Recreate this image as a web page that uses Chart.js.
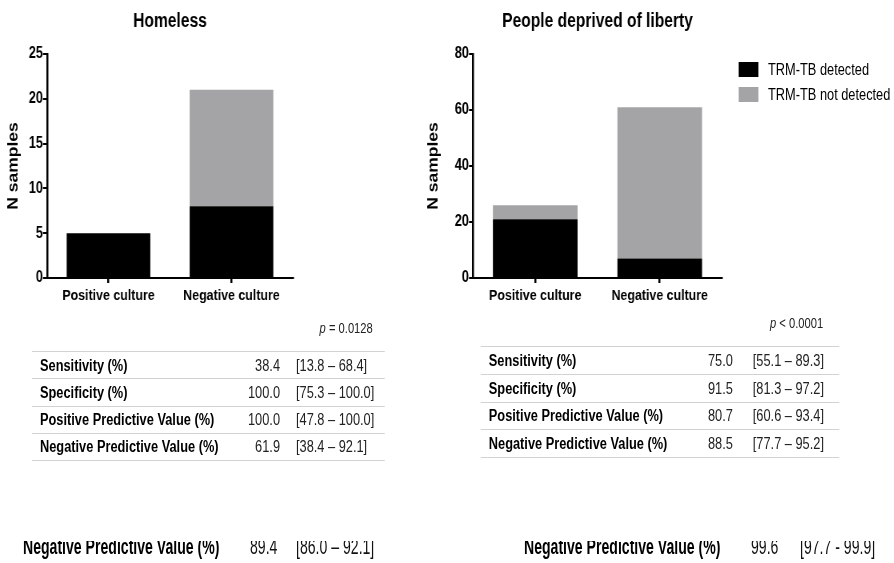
<!DOCTYPE html>
<html>
<head>
<meta charset="utf-8">
<script src="https://cdn.jsdelivr.net/npm/chart.js@4"></script>
<style>
  body { margin: 0; background: #fff; width: 894px; height: 563px; position: relative; overflow: hidden;
         font-family: 'Liberation Sans', Arial, sans-serif; color: #000; }
  /* everything is laid out 1/0.8 wider and squeezed back, to get the narrow type of the original */
  #main { position: absolute; left: 0; top: 0; width: 1117.5px; height: 563px; transform: scaleX(0.8); transform-origin: 0 0; }
  #main canvas { position: absolute; top: 0; }
  #homelessChart { left: 0; }
  #pdlChart { left: 525px; }
  #legend { position: absolute; left: 922.5px; top: 62px; }
  #legend .item { position: relative; height: 25px; white-space: nowrap; }
  #legend .box { position: absolute; left: 0; top: 0; width: 25px; height: 15px; }
  #legend .txt { position: absolute; left: 37.5px; top: -1px; font-size: 16px; line-height: 17px; }
  .pval { position: absolute; font-size: 14px; color: #222; text-align: right; width: 100px; line-height: 16px; }
  .stats { position: absolute; }
  .stats .row { position: absolute; left: 0; right: 0; border-top: 1.5px solid #d2d2d2; font-size: 16px; }
  .stats .row span { position: absolute; top: 50%; transform: translateY(-50%); white-space: nowrap; line-height: 18px; }
  .stats .lab { font-weight: bold; left: 10px; }
  .stats .val { color: #222; text-align: right; }
  .stats .ci { color: #222; }
  .stats .end { position: absolute; left: 0; right: 0; border-top: 1.5px solid #d2d2d2; }
  #bottomClip { position: absolute; left: 0; top: 541px; width: 1400px; height: 22px; overflow: hidden; transform: scaleX(0.64); transform-origin: 0 0; }
  #bottomClip span { position: absolute; top: -4.6px; font-size: 22px; line-height: 22px; white-space: nowrap; color: #111; }
  #bottomClip .lab { font-weight: bold; color: #000; }
</style>
</head>
<body>
<div id="main">
  <canvas id="homelessChart" width="388" height="310"></canvas>
  <canvas id="pdlChart" width="593" height="310"></canvas>
  <div id="legend"></div>
  <div class="pval" style="left:366px; top:320px;"><i>p</i> = 0.0128</div>
  <div class="pval" style="left:929px; top:315px;"><i>p</i> &lt; 0.0001</div>
  <div class="stats" id="homelessTable" style="left:40px; top:351px; width:441px;"></div>
  <div class="stats" id="pdlTable" style="left:601px; top:346px; width:448px;"></div>
</div>
<div id="bottomClip"></div>

<script>
const categories = ["Positive culture", "Negative culture"];
const seriesNames = ["TRM-TB detected", "TRM-TB not detected"];
const seriesColors = ["#000000", "#a4a4a7"];

const homelessDetected = [5, 8];
const homelessNotDetected = [0, 13];
const homelessYTicks = [0, 5, 10, 15, 20, 25];

const pdlDetected = [21, 7];
const pdlNotDetected = [5, 54];
const pdlYTicks = [0, 20, 40, 60, 80];

const metricLabels = ["Sensitivity (%)", "Specificity (%)", "Positive Predictive Value (%)", "Negative Predictive Value (%)"];
const homelessValues = ["38.4", "100.0", "100.0", "61.9"];
const homelessCI = ["[13.8 \u2013 68.4]", "[75.3 \u2013 100.0]", "[47.8 \u2013 100.0]", "[38.4 \u2013 92.1]"];
const pdlValues = ["75.0", "91.5", "80.7", "88.5"];
const pdlCI = ["[55.1 \u2013 89.3]", "[81.3 \u2013 97.2]", "[60.6 \u2013 93.4]", "[77.7 \u2013 95.2]"];

const bottomLabels = ["Negative Predictive Value (%)", "Negative Predictive Value (%)"];
const bottomValues = ["89.4", "99.6"];
const bottomCI = ["[86.0 \u2013 92.1]", "[97.7 - 99.9]"];

Chart.defaults.font.family = "'Liberation Sans', Arial, sans-serif";
Chart.defaults.color = "#000";

function makeChart(id, title, detected, notDetected, yTicks, yWidth, rightPad) {
  return new Chart(document.getElementById(id), {
    type: "bar",
    data: {
      labels: categories,
      datasets: [
        { label: seriesNames[0], data: detected, backgroundColor: seriesColors[0], barPercentage: 0.68, categoryPercentage: 1 },
        { label: seriesNames[1], data: notDetected, backgroundColor: seriesColors[1], barPercentage: 0.68, categoryPercentage: 1 }
      ]
    },
    options: {
      responsive: false,
      animation: false,
      layout: { padding: { right: rightPad } },
      plugins: {
        title: {
          display: true, text: title, fullSize: false, color: "#000",
          font: { size: 19.5, weight: "bold" }, padding: { top: 10, bottom: 20.6 }
        },
        legend: { display: false },
        tooltip: { enabled: false }
      },
      scales: {
        x: {
          stacked: true,
          grid: { drawOnChartArea: false, offset: false, tickLength: 5, color: "#000", lineWidth: 2.5 },
          border: { color: "#000", width: 2 },
          ticks: { color: "#000", font: { size: 15.5, weight: "bold" }, padding: 3 },
          afterFit: function (scale) { scale.height = 32; }
        },
        y: {
          stacked: true,
          min: yTicks[0],
          max: yTicks[yTicks.length - 1],
          afterBuildTicks: function (scale) { scale.ticks = yTicks.map(v => ({ value: v })); },
          grid: { drawOnChartArea: false, tickLength: 5, color: "#000", lineWidth: 2 },
          border: { color: "#000", width: 2.5 },
          ticks: { color: "#000", font: { size: 16, weight: "bold" }, padding: 0 },
          title: { display: true, text: "N samples", color: "#000", font: { size: 17.5, weight: "bold" }, padding: { top: 7, bottom: 4 } },
          afterFit: function (scale) { scale.width = yWidth; }
        }
      }
    }
  });
}

makeChart("homelessChart", "Homeless", homelessDetected, homelessNotDetected, homelessYTicks, 58.75, 21.75);
const pdlChart = makeChart("pdlChart", "People deprived of liberty", pdlDetected, pdlNotDetected, pdlYTicks, 66.25, 215.5);

// legend next to the right panel, from the chart's own datasets
const legend = document.getElementById("legend");
pdlChart.data.datasets.forEach(function (ds) {
  legend.innerHTML += '<div class="item"><div class="box" style="background:' + ds.backgroundColor + '"></div>' +
    '<div class="txt">' + ds.label + '</div></div>';
});

function fillTable(id, values, cis, rowH, valRight, ciLeft) {
  const t = document.getElementById(id);
  metricLabels.forEach(function (lab, i) {
    const r = document.createElement("div");
    r.className = "row";
    r.style.top = (i * rowH) + "px";
    r.style.height = rowH + "px";
    r.innerHTML = '<span class="lab">' + lab + '</span>' +
      '<span class="val" style="right:' + (t.offsetWidth - valRight) + 'px">' + values[i] + '</span>' +
      '<span class="ci" style="left:' + ciLeft + 'px">' + cis[i] + '</span>';
    t.appendChild(r);
  });
  const e = document.createElement("div");
  e.className = "end";
  e.style.top = (metricLabels.length * rowH) + "px";
  t.appendChild(e);
}
fillTable("homelessTable", homelessValues, homelessCI, 27.25, 310, 330);
fillTable("pdlTable", pdlValues, pdlCI, 27.75, 315, 340);

// bottom strip, positions in the squeezed (0.64) space
const bottomX = [[23, 250, 296], [524, 751, 800]];
const strip = document.getElementById("bottomClip");
bottomLabels.forEach(function (lab, i) {
  strip.innerHTML += '<span class="lab" style="left:' + (bottomX[i][0] / 0.64) + 'px">' + lab + '</span>' +
    '<span style="left:' + (bottomX[i][1] / 0.64) + 'px">' + bottomValues[i] + '</span>' +
    '<span style="left:' + (bottomX[i][2] / 0.64) + 'px">' + bottomCI[i] + '</span>';
});
</script>
</body>
</html>
